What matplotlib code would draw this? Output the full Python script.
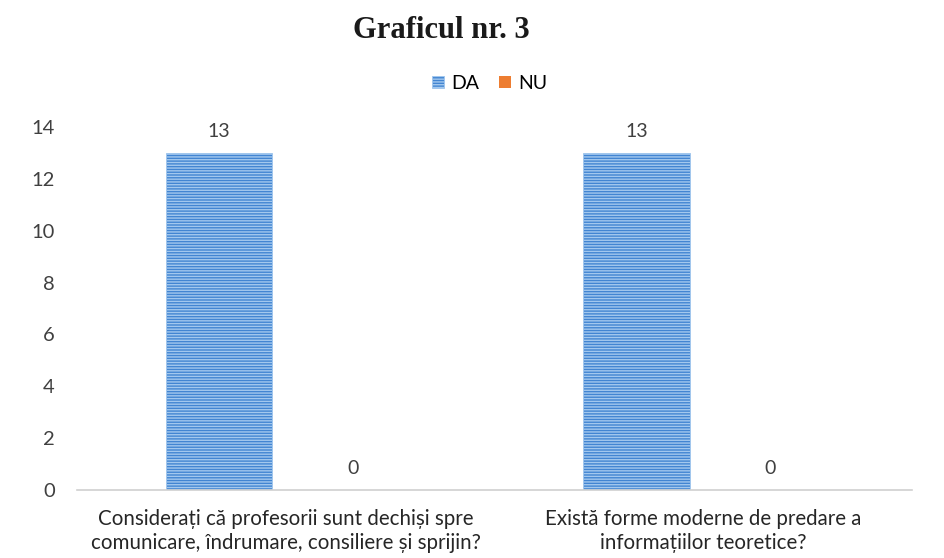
import matplotlib
matplotlib.use('Agg')
import matplotlib.pyplot as plt
import numpy as np

categories = ['Considerați că profesorii sunt dechiși spre\ncomunicare, îndrumare, consiliere și sprijin?',
              'Există forme moderne de predare a\ninformațiilor teoretice?']
da = [13, 13]
nu = [0, 0]

plt.rcParams['font.family'] = ['Lato', 'DejaVu Sans']

fig = plt.figure(figsize=(9.44, 5.58), dpi=100)
ax = fig.add_axes([0.0816, 0.1219, 0.8845, 0.6505])

x = np.arange(len(categories))
w = 0.256
off = 0.16
b1 = ax.bar(x - off, da, w, color='#4285d2', edgecolor='#a3c8ee', hatch='------', linewidth=0.6, label='DA')
b2 = ax.bar(x + off, nu, w, color='#ed7d31', label='NU')

for bars, vals in ((b1, da), (b2, nu)):
    for r, v in zip(bars, vals):
        ax.text(r.get_x() + r.get_width() / 2, v + 0.5, str(v), ha='center', va='bottom',
                fontsize=14, color='#404040')

ax.set_xlim(-0.5, 1.5)
ax.set_ylim(0, 14)
ax.set_yticks(range(0, 15, 2))
ax.set_xticks(x)
ax.set_xticklabels(categories, fontsize=14.8, color='#262626', linespacing=1.25)
ax.tick_params(axis='y', labelsize=14.5, colors='#404040', length=0, pad=16)
ax.tick_params(axis='x', length=0, pad=14)
for s in ('top', 'right', 'left'):
    ax.spines[s].set_visible(False)
ax.spines['bottom'].set_color('#d0d0d0')
ax.spines['bottom'].set_linewidth(1.2)

fig.text(0.467, 0.945, 'Graficul nr. 3', ha='center', va='center',
         fontsize=22, fontweight='bold', family='Liberation Serif', color='#1a1a1a')

fig.legend(handles=[b1, b2], loc='center', bbox_to_anchor=(0.519, 0.851), ncol=2, frameon=False,
           fontsize=14, handlelength=0.6, handleheight=0.6, handletextpad=0.4, columnspacing=1.0)

fig.savefig('out.png', dpi=100)
